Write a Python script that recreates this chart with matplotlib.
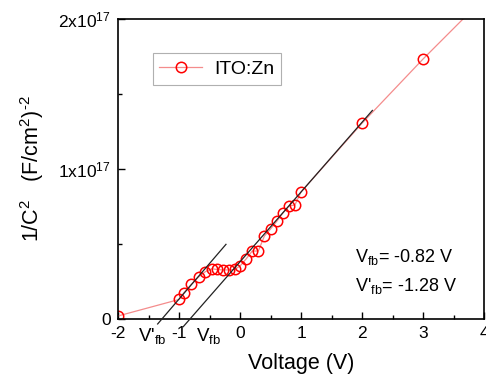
import matplotlib
matplotlib.use('Agg')
import matplotlib.pyplot as plt
import matplotlib.transforms as mtransforms
from matplotlib.ticker import MultipleLocator, FuncFormatter
import numpy as np

plt.rcParams['font.family'] = ['Liberation Sans', 'DejaVu Sans']
plt.rcParams['mathtext.fontset'] = 'custom'
plt.rcParams['mathtext.rm'] = 'Liberation Sans'
plt.rcParams['mathtext.it'] = 'Liberation Sans:italic'
plt.rcParams['axes.unicode_minus'] = False

# Mott-Schottky data, ITO:Zn  (1/C^2 in units of 1e17 (F/cm^2)^-2)
voltage = [-2.0, -1.0, -0.92, -0.8, -0.68, -0.57, -0.46, -0.38, -0.28, -0.18, -0.09,
           0.0, 0.1, 0.2, 0.3, 0.4, 0.5, 0.6, 0.7, 0.8, 0.9, 1.0, 2.0, 3.0, 4.0]
inv_c2 = [0.02, 0.13, 0.175, 0.23, 0.28, 0.315, 0.335, 0.33, 0.327, 0.327, 0.33,
          0.353, 0.40, 0.453, 0.453, 0.553, 0.60, 0.65, 0.705, 0.753, 0.76, 0.847,
          1.305, 1.733, 2.14]

# linear fits: x-intercept (flat-band voltage), slope, x-span of the drawn line
vfb = -0.82
vfb_slope = 0.465
vfb_span = [-0.93, 2.17]
vfb_p = -1.28
vfb_p_slope = 0.474
vfb_p_span = [-1.35, -0.23]

fig = plt.figure(figsize=(4.86, 3.84), dpi=100)
ax = fig.add_axes([0.2428, 0.1693, 0.7531, 0.7812])

v = np.array(voltage)
c = np.array(inv_c2) * 1e17
ax.plot(v, c, '-', color='#f48c8c', lw=0.9, marker='o', mfc='none', mec='red',
        mew=1.1, ms=7.5, label='ITO:Zn')

for x0, k, span in [(vfb, vfb_slope, vfb_span), (vfb_p, vfb_p_slope, vfb_p_span)]:
    xs = np.array(span)
    ax.plot(xs, k * (xs - x0) * 1e17, color='#222222', lw=0.9, clip_on=False, zorder=3)

ax.set_xlim(-2, 4)
ax.set_ylim(0, 2e17)
ax.xaxis.set_major_locator(MultipleLocator(1))
ax.xaxis.set_minor_locator(MultipleLocator(0.5))
ax.yaxis.set_major_locator(MultipleLocator(1e17))
ax.yaxis.set_minor_locator(MultipleLocator(0.5e17))


def sci(val, pos):
    n = int(round(val / 1e17))
    return '0' if n == 0 else r'%dx10$^{\mathregular{17}}$' % n


ax.yaxis.set_major_formatter(FuncFormatter(sci))
ax.tick_params(which='both', direction='in', top=False, right=False, labelsize=12.5)
ax.tick_params(which='major', length=5, width=1, pad=5)
ax.tick_params(which='minor', length=3, width=1)
for s in ax.spines.values():
    s.set_linewidth(1.2)

ax.set_xlabel('Voltage (V)', fontsize=15.5, labelpad=9)
ax.set_ylabel(r'1/C$^{\mathregular{2}}$   (F/cm$^{\mathregular{2}}$)$^{\text{-2}}$',
              fontsize=15.5, labelpad=9)

# flat-band markers under the x axis
trans = mtransforms.blended_transform_factory(ax.transData, ax.transAxes)
ax.text(-1.44, -0.022, r"V'$_{\mathregular{fb}}$", transform=trans, ha='center',
        va='top', fontsize=13.5)
ax.text(-0.52, -0.022, r"V$_{\mathregular{fb}}$", transform=trans, ha='center',
        va='top', fontsize=13.5)

ax.text(0.647, 0.205, r'V$_{\mathregular{fb}}$= -0.82 V', transform=ax.transAxes,
        ha='left', va='center', fontsize=13)
ax.text(0.647, 0.11, r"V'$_{\mathregular{fb}}$= -1.28 V", transform=ax.transAxes,
        ha='left', va='center', fontsize=13)

leg = ax.legend(loc='upper left', bbox_to_anchor=(0.068, 0.918), fontsize=14,
                fancybox=False, framealpha=1, edgecolor='#b0b0b0',
                handlelength=2.2, borderpad=0.35, handletextpad=0.6)
leg.get_frame().set_linewidth(0.8)

fig.savefig('out.png', dpi=100)
